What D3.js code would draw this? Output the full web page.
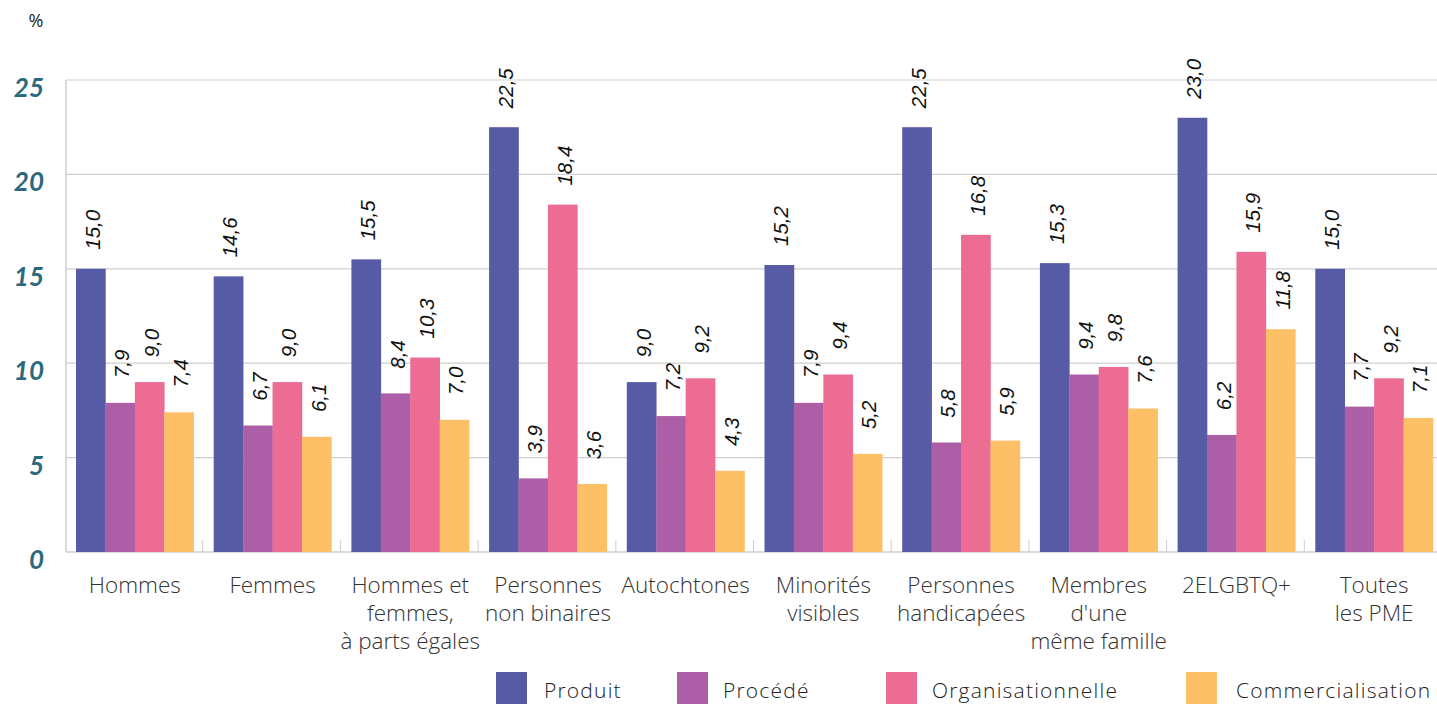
<!DOCTYPE html>
<html>
<head>
<meta charset="utf-8">
<script src="https://cdn.jsdelivr.net/npm/d3@7"></script>
<style>
  body { margin: 0; background: #fff; }
  svg { display: block; }
</style>
</head>
<body>
<script>
// data
var categories = [
  ["Hommes"],
  ["Femmes"],
  ["Hommes et", "femmes,", "à parts égales"],
  ["Personnes", "non binaires"],
  ["Autochtones"],
  ["Minorités", "visibles"],
  ["Personnes", "handicapées"],
  ["Membres", "d'une", "même famille"],
  ["2ELGBTQ+"],
  ["Toutes", "les PME"]
];
var seriesNames = ["Produit", "Procédé", "Organisationnelle", "Commercialisation"];
var produit = [15.0, 14.6, 15.5, 22.5, 9.0, 15.2, 22.5, 15.3, 23.0, 15.0];
var procede = [7.9, 6.7, 8.4, 3.9, 7.2, 7.9, 5.8, 9.4, 6.2, 7.7];
var organisationnelle = [9.0, 9.0, 10.3, 18.4, 9.2, 9.4, 16.8, 9.8, 15.9, 9.2];
var commercialisation = [7.4, 6.1, 7.0, 3.6, 4.3, 5.2, 5.9, 7.6, 11.8, 7.1];
var yTicks = [0, 5, 10, 15, 20, 25];
var colors = ["#575ba5", "#ac5fa6", "#ec6c94", "#fdc066"];

var series = [produit, procede, organisationnelle, commercialisation];

var width = 1437, height = 704;
var plotLeft = 66, groupW = 137.7, plotTop = 80, plotBottom = 552;

var svg = d3.select("body").append("svg")
    .attr("width", width)
    .attr("height", height);

var x0 = d3.scaleBand()
    .domain(d3.range(categories.length))
    .range([plotLeft, plotLeft + groupW * categories.length]);

var x1 = d3.scaleBand()
    .domain(d3.range(seriesNames.length))
    .range([10, groupW - 10]);

var y = d3.scaleLinear()
    .domain([0, 25])
    .range([plotBottom, plotTop]);

// gridlines
svg.append("g").selectAll("line")
    .data(yTicks.slice(1))
  .enter().append("line")
    .attr("x1", plotLeft).attr("x2", width)
    .attr("y1", function(d){ return y(d); })
    .attr("y2", function(d){ return y(d); })
    .attr("stroke", "#cfcfcf")
    .attr("stroke-width", 1.2);

// axis lines
svg.append("line")
    .attr("x1", plotLeft).attr("x2", plotLeft)
    .attr("y1", plotTop).attr("y2", plotBottom)
    .attr("stroke", "#cfcfcf").attr("stroke-width", 1.5);
svg.append("line")
    .attr("x1", plotLeft).attr("x2", width)
    .attr("y1", plotBottom).attr("y2", plotBottom)
    .attr("stroke", "#cfcfcf").attr("stroke-width", 1.5);

// small separators between groups
svg.append("g").selectAll("line")
    .data(d3.range(1, categories.length))
  .enter().append("line")
    .attr("x1", function(i){ return x0(i) - 1; })
    .attr("x2", function(i){ return x0(i) - 1; })
    .attr("y1", plotBottom - 12).attr("y2", plotBottom)
    .attr("stroke", "#cfcfcf").attr("stroke-width", 1);

// y labels
svg.append("g").selectAll("text")
    .data(yTicks)
  .enter().append("text")
    .attr("x", 44)
    .attr("y", function(d){ return y(d) + 17; })
    .attr("text-anchor", "end")
    .attr("font-family", "Lato, 'Noto Sans', sans-serif")
    .attr("font-style", "italic")
    .attr("font-weight", "bold")
    .attr("font-size", 26)
    .attr("fill", "#2b6a7c")
    .text(function(d){ return d; });

svg.append("text")
    .attr("x", 36).attr("y", 27)
    .attr("text-anchor", "middle")
    .attr("font-family", "'Open Sans', sans-serif")
    .attr("font-size", 18)
    .attr("fill", "#222")
    .text("%");

// bars
var groups = svg.append("g").selectAll("g")
    .data(categories)
  .enter().append("g")
    .attr("transform", function(d, i){ return "translate(" + x0(i) + ",0)"; });

groups.selectAll("rect")
    .data(function(d, i){ return series.map(function(s, k){ return {k: k, v: s[i]}; }); })
  .enter().append("rect")
    .attr("x", function(d){ return x1(d.k); })
    .attr("width", x1.bandwidth() + 0.3)
    .attr("y", function(d){ return y(d.v); })
    .attr("height", function(d){ return plotBottom - y(d.v); })
    .attr("fill", function(d){ return colors[d.k]; });

// value labels, centred 39px above the bar
groups.selectAll("text.val")
    .data(function(d, i){ return series.map(function(s, k){ return {k: k, v: s[i]}; }); })
  .enter().append("text")
    .attr("class", "val")
    .attr("transform", function(d){
        var cx = x1(d.k) + x1.bandwidth() / 2 + 9;
        return "translate(" + cx + "," + (y(d.v) - 39) + ") rotate(-90)";
    })
    .attr("text-anchor", "middle")
    .attr("font-family", "'Liberation Sans', Arial, sans-serif")
    .attr("font-style", "italic")
    .attr("font-size", 20.5)
    .attr("fill", "#111")
    .text(function(d){ return d.v.toFixed(1).replace(".", ","); });

// category labels, one text per line
groups.each(function(lines, i){
    var g = d3.select(this);
    lines.forEach(function(line, j){
        g.append("text")
            .attr("x", groupW / 2)
            .attr("y", 593 + j * 28)
            .attr("text-anchor", "middle")
            .attr("font-family", "'Open Sans', sans-serif")
            .attr("font-weight", 300)
            .attr("font-size", 22.5)
            .attr("fill", "#333")
            .text(line);
    });
});

// legend
var legendX = [496, 677, 886, 1186];
var legend = svg.append("g").selectAll("g")
    .data(seriesNames)
  .enter().append("g")
    .attr("transform", function(d, i){ return "translate(" + legendX[i] + ",672)"; });
legend.append("rect")
    .attr("width", 31).attr("height", 32)
    .attr("fill", function(d, i){ return colors[i]; });
legend.append("text")
    .attr("x", function(d, i){ return [48, 46, 46, 50][i]; })
    .attr("y", 26)
    .attr("font-family", "'Open Sans', sans-serif")
    .attr("font-weight", 300)
    .attr("font-size", 21)
    .attr("letter-spacing", 1.2)
    .attr("fill", "#222")
    .text(function(d){ return d; });
</script>
</body>
</html>
